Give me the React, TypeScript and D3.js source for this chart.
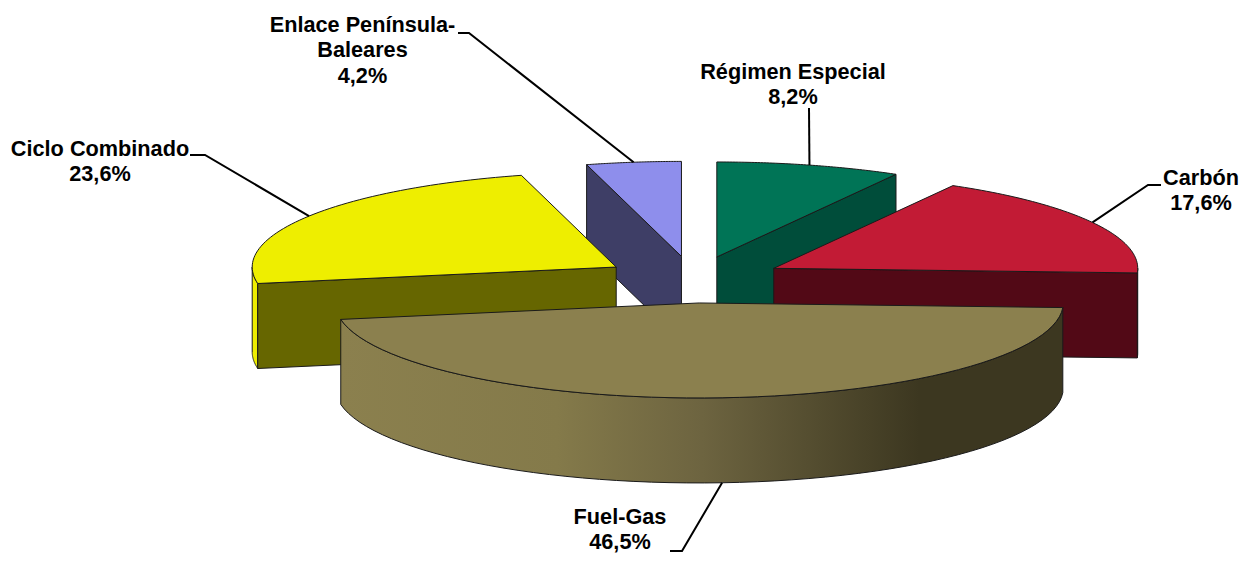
import React from 'react';
import * as d3 from 'd3';

const width = 1241;
const height = 578;

const categories = ['Régimen Especial', 'Carbón', 'Fuel-Gas', 'Ciclo Combinado', 'Enlace Península-Baleares'];
const values = [8.2, 17.6, 46.5, 23.6, 4.2];
const valueLabels = ['8,2%', '17,6%', '46,5%', '23,6%', '4,2%'];
const topColors = ['#007456', '#c21b35', '#8b804e', '#eeee00', '#8e8eec'];
const wallColors = ['#004d3a', '#520916', '#8b804e', '#666600', '#3e3e66'];

// label layout: text lines, centre x, first baseline, then the leader elbow points
const labelLines = [['Régimen Especial'], ['Carbón'], ['Fuel-Gas'], ['Ciclo Combinado'], ['Enlace Península-', 'Baleares']];
const labelX = [793, 1201, 620, 100, 362.5];
const labelY = [79, 185, 524, 156, 32];
const leaderElbows: [number, number][][] = [
  [[809, 108]],
  [[1148, 185], [1161, 185]],
  [[682, 551], [670, 551]],
  [[205, 155], [190, 155]],
  [[469, 33], [458, 33]],
];
// back-to-front painting order
const drawOrder = [4, 0, 3, 1, 2];

const cx = 693.5;
const cy = 279.6;
const rx = 364;
const ry = 95;
const depth = 85;
const explodeX = 91.6;
const explodeY = 23.4;

const slices = d3.pie<number>().sort(null).startAngle(0).endAngle(2 * Math.PI)(values);

const App = () => {
  const line = d3.line();

  const apexOf = (i: number): [number, number] => {
    const mid = (slices[i].startAngle + slices[i].endAngle) / 2;
    return [cx + explodeX * Math.sin(mid), cy - explodeY * Math.cos(mid)];
  };
  const rimPoint = (i: number, a: number, dy = 0): [number, number] => {
    const [ax, ay] = apexOf(i);
    return [ax + rx * Math.sin(a), ay - ry * Math.cos(a) + dy];
  };
  const arcPoints = (i: number, a0: number, a1: number, dy = 0) =>
    d3.range(0, 61).map((k) => rimPoint(i, a0 + ((a1 - a0) * k) / 60, dy));

  return (
    <svg width={width} height={height} style={{ position: 'absolute', left: 0, top: 0, display: 'block' }}>
      <defs>
        <linearGradient id="fuelRim" gradientUnits="userSpaceOnUse" x1={340} x2={1064} y1={0} y2={0}>
          <stop offset="0" stopColor="#8b804e" />
          <stop offset="0.3" stopColor="#847a4a" />
          <stop offset="0.5" stopColor="#6d6440" />
          <stop offset="0.8" stopColor="#3c3720" />
          <stop offset="1" stopColor="#3c3720" />
        </linearGradient>
      </defs>

      {drawOrder.map((i) => {
        const s = slices[i];
        const [ax, ay] = apexOf(i);
        const lo = Math.max(s.startAngle, Math.PI / 2);
        const hi = Math.min(s.endAngle, (3 * Math.PI) / 2);
        const hasRim = hi > lo;
        const rimPath = hasRim
          ? line([...arcPoints(i, lo, hi), ...arcPoints(i, hi, lo, depth)]) + 'Z'
          : null;
        // a cut face shows only when it turns towards the viewer
        const wallAngle =
          s.endAngle < Math.PI ? s.endAngle : s.startAngle > Math.PI ? s.startAngle : null;
        const wallPath =
          wallAngle === null
            ? null
            : line([[ax, ay], rimPoint(i, wallAngle), rimPoint(i, wallAngle, depth), [ax, ay + depth]]) + 'Z';
        const topPath = line([[ax, ay], ...arcPoints(i, s.startAngle, s.endAngle)]) + 'Z';
        const rimFill = i === 2 ? 'url(#fuelRim)' : i === 3 ? topColors[i] : wallColors[i];
        return (
          <g key={categories[i]} stroke="#1a1a1a" strokeWidth={1} strokeLinejoin="round">
            {rimPath && <path d={rimPath} fill={rimFill} />}
            {wallPath && <path d={wallPath} fill={wallColors[i]} />}
            <path d={topPath} fill={topColors[i]} />
          </g>
        );
      })}

      {slices.map((s, i) => {
        const mid = (s.startAngle + s.endAngle) / 2;
        const start = rimPoint(i, mid, i === 2 ? depth : 0);
        return (
          <path
            key={i}
            d={line([start, ...leaderElbows[i]]) ?? ''}
            fill="none"
            stroke="#000"
            strokeWidth={2}
          />
        );
      })}

      <g fontFamily="'Liberation Sans', Arial, sans-serif" fontWeight="bold" fontSize={21.7} textAnchor="middle" fill="#000">
        {categories.map((c, i) => (
          <text key={c} x={labelX[i]} y={labelY[i]}>
            {[...labelLines[i], valueLabels[i]].map((t, k) => (
              <tspan key={t} x={labelX[i]} dy={k === 0 ? 0 : 25.3}>
                {t}
              </tspan>
            ))}
          </text>
        ))}
      </g>
    </svg>
  );
};

export default App;
